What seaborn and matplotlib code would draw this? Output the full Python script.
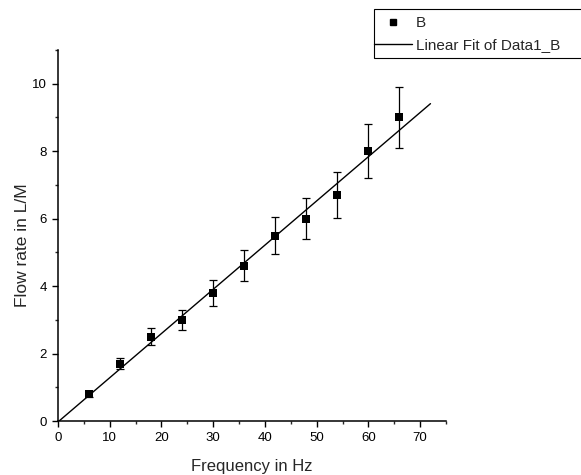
import numpy as np
import pandas as pd
import matplotlib
matplotlib.use('Agg')
import matplotlib.pyplot as plt
from matplotlib.patches import Rectangle
from matplotlib.lines import Line2D
from matplotlib.ticker import MultipleLocator
import seaborn as sns

# data
freq = [6, 12, 18, 24, 30, 36, 42, 48, 54, 60, 66]
flow = [0.8, 1.7, 2.5, 3.0, 3.8, 4.6, 5.5, 6.0, 6.7, 8.0, 9.0]
flow_err = [0.08, 0.17, 0.25, 0.30, 0.38, 0.46, 0.55, 0.60, 0.67, 0.80, 0.90]
fit_range = [0, 72]

data = pd.DataFrame({'Frequency': freq, 'Flow': flow, 'Err': flow_err})

slope, intercept = np.polyfit(data['Frequency'], data['Flow'], 1)
fit = pd.DataFrame({'Frequency': fit_range})
fit['Flow'] = slope * fit['Frequency'] + intercept

sns.set_style('ticks')
plt.rcParams['font.family'] = ['Liberation Sans', 'DejaVu Sans']

fig = plt.figure(figsize=(5.81, 4.75), dpi=100)
ax = fig.add_axes([58 / 581, 1 - 421 / 475, 388 / 581, 371 / 475])

ax.errorbar(data['Frequency'], data['Flow'], yerr=data['Err'], fmt='none',
            ecolor='black', elinewidth=0.9, capsize=3, capthick=0.9, zorder=2)
sns.lineplot(data=fit, x='Frequency', y='Flow', ax=ax, color='black',
             linewidth=1.0, zorder=3)
sns.scatterplot(data=data, x='Frequency', y='Flow', ax=ax, marker='s',
                s=28, color='black', edgecolor='black', linewidth=0, zorder=4)

ax.set_xlim(0, 75)
ax.set_ylim(0, 11)
ax.set_xticks(range(0, 71, 10))
ax.set_yticks(range(0, 11, 2))
ax.xaxis.set_minor_locator(MultipleLocator(5))
ax.yaxis.set_minor_locator(MultipleLocator(1))
ax.tick_params(which='major', direction='out', length=4, width=1.0,
               labelsize=9.5, colors='black', pad=4)
ax.tick_params(which='minor', direction='out', length=2.5, width=1.0)

for side in ['top', 'right']:
    ax.spines[side].set_visible(False)
for side in ['left', 'bottom']:
    ax.spines[side].set_linewidth(1.1)
    ax.spines[side].set_color('black')

ax.set_xlabel('Frequency in Hz', fontsize=12, labelpad=11)
ax.set_ylabel('Flow rate in L/M', fontsize=12.5)
ax.yaxis.set_label_coords(-0.072, 0.474)

# legend box that runs off the right edge, as in the reference
fig.patches.append(Rectangle((374 / 581, 1 - 58 / 475), 240 / 581, 49 / 475,
                             transform=fig.transFigure, facecolor='white',
                             edgecolor='black', linewidth=0.8))
handles = [Line2D([], [], marker='s', linestyle='none', color='black',
                  markersize=5),
           Line2D([], [], color='black', linewidth=1.0)]
fig.legend(handles, ['B', 'Linear Fit of Data1_B'], loc='upper left',
           bbox_to_anchor=(367 / 581, 1 - 9 / 475), frameon=False,
           fontsize=11, handlelength=2.5, handletextpad=0.26,
           borderpad=0.45, labelspacing=0.54, borderaxespad=0)

fig.savefig('out.png', dpi=100)
